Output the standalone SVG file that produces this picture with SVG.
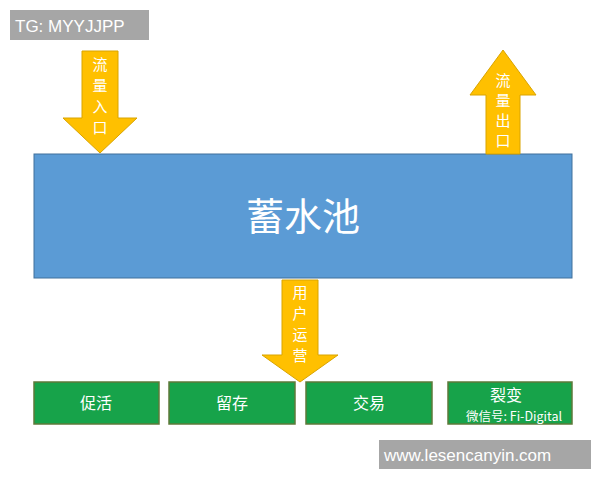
<svg xmlns="http://www.w3.org/2000/svg" width="600" height="480" viewBox="0 0 600 480">
<style>
.arr{fill:#FFC000;stroke:#D9A400;stroke-width:1}
.vt{font-family:"Noto Sans CJK SC",sans-serif;font-size:15px;fill:#fff;text-anchor:middle}
.g{fill:#17A34A;stroke:#5E7A3A;stroke-width:1.5}
.gt{font-family:"Noto Sans CJK SC",sans-serif;font-size:16px;fill:#fff;text-anchor:middle}
.wm{font-family:"Liberation Sans",sans-serif;font-size:17px;fill:#fff}
</style>
<rect width="600" height="480" fill="#fff"/>
<g id="tg"><rect x="10" y="10" width="139" height="30" fill="#A6A6A6"/><text x="15" y="32" class="wm" font-size="18">TG: MYYJJPP</text></g>
<g id="pool"><rect x="34" y="154" width="538" height="124" fill="#5B9BD5" stroke="#41719C"/><text x="303" y="230" font-family="Noto Sans CJK SC,sans-serif" font-size="38" fill="#fff" text-anchor="middle">蓄水池</text></g>
<g id="connectors">
<g id="inlet"><polygon class="arr" points="82,51 118,51 118,118 137,118 100,153 63,118 82,118"/>
<text class="vt" x="100" y="70">流</text><text class="vt" x="100" y="91">量</text><text class="vt" x="100" y="112">入</text><text class="vt" x="100" y="133">口</text></g>
<g id="outlet"><polygon class="arr" points="503,50 536,95 520,95 520,154 486,154 486,95 470,95"/>
<text class="vt" x="503" y="86">流</text><text class="vt" x="503" y="106">量</text><text class="vt" x="503" y="126">出</text><text class="vt" x="503" y="146">口</text></g>
<g id="ops"><polygon class="arr" points="282,280 318,280 318,355 338,355 300,382 262,355 282,355"/>
<text class="vt" x="300" y="298">用</text><text class="vt" x="300" y="319">户</text><text class="vt" x="300" y="340">运</text><text class="vt" x="300" y="361">营</text></g>
</g>
<g id="n1"><rect class="g" x="34" y="382" width="125" height="42"/><text class="gt" x="96" y="409">促活</text></g>
<g id="n2"><rect class="g" x="169" y="382" width="126" height="42"/><text class="gt" x="232" y="409">留存</text></g>
<g id="n3"><rect class="g" x="306" y="382" width="126" height="42"/><text class="gt" x="369" y="409">交易</text></g>
<g id="n4"><rect class="g" x="448" y="382" width="124" height="42"/><text class="gt" x="506" y="401" font-size="15">裂变</text>
<text x="466" y="421" font-family="Noto Sans CJK SC,sans-serif" font-size="12.5" fill="#fff">微信号: Fi-Digital</text></g>
<g id="site"><rect x="379" y="440" width="212" height="29" fill="#A6A6A6"/><text x="384" y="461" class="wm" font-size="18">www.lesencanyin.com</text></g>
</svg>
